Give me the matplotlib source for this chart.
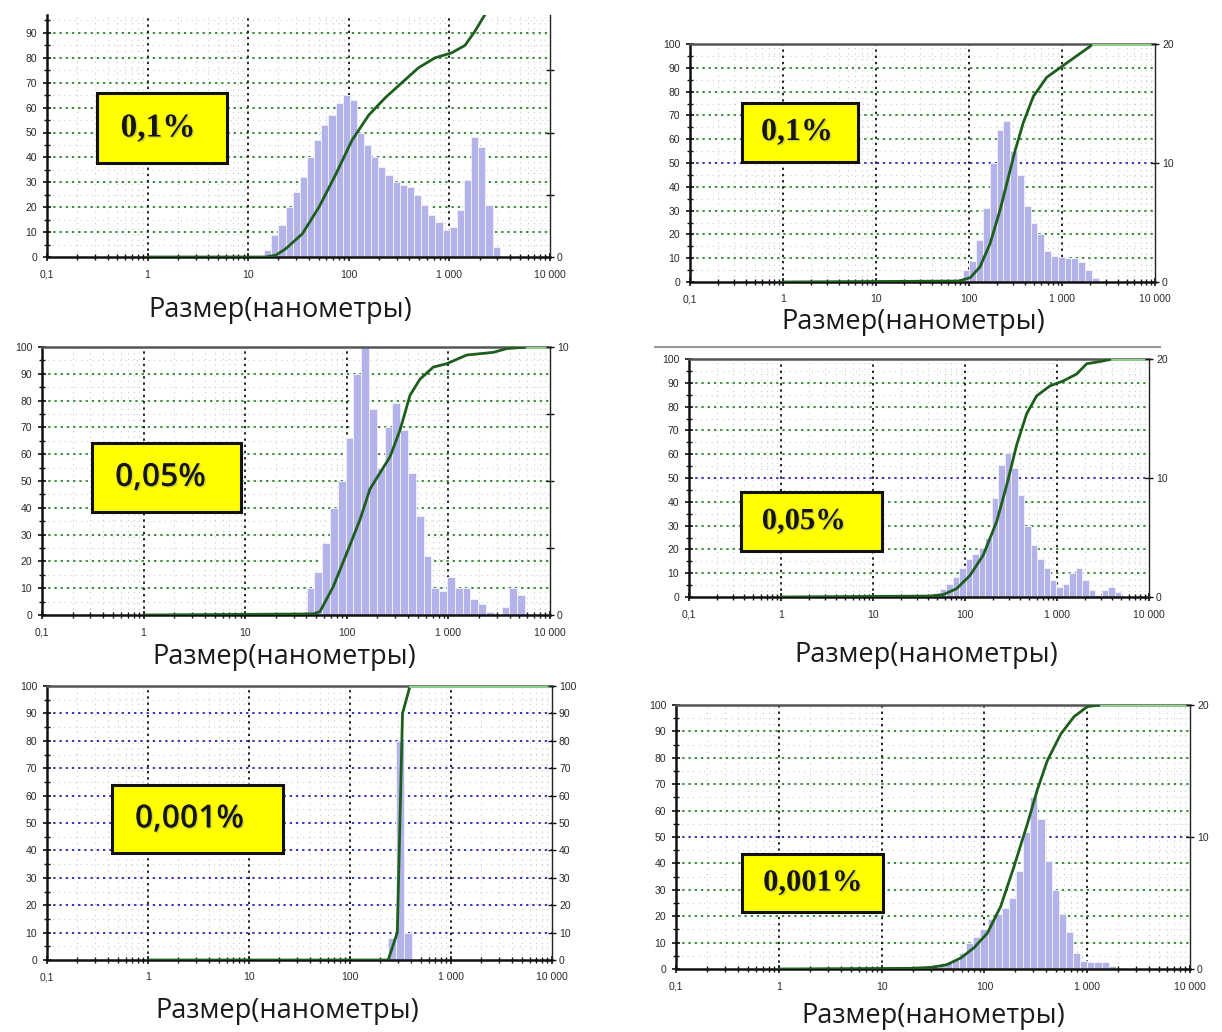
import numpy as np
import matplotlib
matplotlib.use("Agg")
import matplotlib.pyplot as plt
from matplotlib.patches import Rectangle
from matplotlib.lines import Line2D
import matplotlib.patheffects as pe
from matplotlib.ticker import FixedLocator, FixedFormatter, NullFormatter

# ---------------- data ----------------
x_tick_values = [0.1, 1, 10, 100, 1000, 10000]
x_tick_labels = ["0,1", "1", "10", "100", "1 000", "10 000"]
xlabel_text = "Размер(нанометры)"

labels = ["0,1%", "0,1%", "0,05%", "0,05%", "0,001%", "0,001%"]

# histogram channel ranges (nm): first edge, last edge
p1_range = (14.4, 3160)
p2_range = (85.5, 2470)
p3_range = (40.3, 5680)
p4_range = (45.3, 5000)
p5_range = (239, 407)
p6_range = (29.9, 1900)

# histogram heights, in units of the right-hand axis
p1_hist = [3, 9, 13, 20, 26, 32, 40, 47, 53, 57, 62, 65, 63, 50, 45, 40, 36, 33, 30, 29,
           28, 25, 21, 17, 14, 11, 12, 19, 31, 48, 44, 21, 4]
p2_hist = [1.0, 1.8, 3.5, 6.2, 10.0, 12.8, 13.5, 11.0, 9.0, 6.4, 5.0, 4.0, 2.6, 2.2, 2.1,
           2.0, 2.0, 1.7, 1.0, 0.3]
p3_hist = [1.0, 1.6, 2.7, 4.0, 5.0, 6.6, 9.0, 10.0, 7.7, 5.5, 7.0, 7.9, 6.9, 5.3, 3.7, 2.2,
           1.0, 0.9, 1.4, 1.0, 1.0, 0.6, 0.4, 0.1, 0.0, 0.3, 1.0, 0.75]
p4_hist = [0.3, 0.7, 1.1, 1.7, 2.4, 3.2, 3.6, 4.1, 5.0, 8.3, 11.1, 12.1, 10.8, 8.6, 6.0, 4.4,
           3.2, 2.4, 1.4, 0.8, 1.1, 2.0, 2.4, 1.4, 0.6, 0.2, 0.6, 0.8, 0.4]
p5_hist = [8, 80, 10]
p6_hist = [0.2, 0.3, 0.5, 0.7, 1.2, 2.0, 2.4, 3.0, 3.8, 4.2, 4.6, 5.4, 7.4, 10.4, 13.0, 11.4,
           8.2, 6.0, 4.2, 2.8, 1.2, 0.6, 0.5, 0.5, 0.5, 0.2]

# cumulative curves (size nm, cumulative %)
p1_cum_x = [1, 15, 18.8, 23.6, 34.5, 50.5, 73.8, 108, 158, 231, 337, 493, 721, 1055, 1430, 1795, 2254, 2500, 10000]
p1_cum_y = [0, 0, 0.7, 3.3, 9.3, 20, 33, 47, 57, 64, 70, 76, 80, 82, 85, 90.7, 97.3, 100, 100]
p2_cum_x = [1, 77, 103, 131, 168, 215, 265, 312, 384, 492, 685, 1033, 1563, 2174, 10000]
p2_cum_y = [0, 0.4, 1.8, 6.3, 16, 30, 44, 55, 67, 78, 86, 91, 96, 100, 100]
p3_cum_x = [1, 47, 54.5, 73.6, 99.7, 135, 169, 212, 266, 334, 419, 525, 710, 961, 1513, 2766, 3741, 5900, 10000]
p3_cum_y = [0, 0.4, 1.3, 10.6, 23, 35.6, 47, 53, 59, 69, 82, 88, 92.5, 93.75, 97, 98, 99.4, 100, 100]
p4_cum_x = [1, 41.7, 58, 81, 113, 158, 221, 284, 365, 468, 601, 839, 1171, 1636, 2101, 3000, 4000, 10000]
p4_cum_y = [0, 0.4, 1, 3.5, 9, 17.6, 31.7, 47, 64, 77, 84.5, 88.7, 90.8, 93.7, 98, 99, 100, 100]
p5_cum_x = [1, 239, 294, 331, 393, 10000]
p5_cum_y = [0, 0, 10, 90, 100, 100]
p6_cum_x = [1, 19, 30, 43, 59, 79, 107, 144, 194, 262, 328, 410, 553, 745, 1007, 1358, 10000]
p6_cum_y = [0, 0.25, 0.6, 1.6, 4.2, 8, 13.6, 23.7, 38.8, 55, 68, 79, 89, 95.6, 99.4, 100, 100]

# right axis: max value and labelled ticks
right_max = [100, 20, 10, 20, 100, 20]
right_ticks = [[0, 25, 50, 75], [0, 10, 20], [0, 2.5, 5, 7.5, 10], [0, 10, 20],
               list(range(0, 101, 10)), [0, 10, 20]]
right_labels = [["0", "", "", ""], ["0", "10", "20"], ["0", "", "", "", "10"], ["0", "10", "20"],
                [str(v) for v in range(0, 101, 10)], ["0", "10", "20"]]

# ---------------- layout (pixels) ----------------
W, H = 1222, 1032
# x of 0.1, x of 10000, y of 0, y of 100
frames = [(47, 550, 257, 8), (690, 1155, 282, 44), (42, 550, 615, 347),
          (689, 1149, 597, 359), (47, 552, 960, 686), (676, 1190, 969, 705)]
ytop_val = [97, 100, 100, 100, 100, 100]
boxes = [(97, 93, 227, 163), (742, 103, 858, 162), (92, 443, 241, 512),
         (741, 492, 882, 551), (112, 785, 283, 853), (742, 854, 883, 912)]
box_text_dx = [-4, -3, -6, -8, -8, 0]
box_serif = [True, True, False, True, False, True]
box_fs = [24, 23, 23, 22, 23, 22]
xlabels_pos = [(280, 310), (913, 322), (284, 657), (926, 655), (287, 1011), (933, 1016)]
hist_sets = [(p1_range, p1_hist), (p2_range, p2_hist), (p3_range, p3_hist),
             (p4_range, p4_hist), (p5_range, p5_hist), (p6_range, p6_hist)]
cum_sets = [(p1_cum_x, p1_cum_y), (p2_cum_x, p2_cum_y), (p3_cum_x, p3_cum_y),
            (p4_cum_x, p4_cum_y), (p5_cum_x, p5_cum_y), (p6_cum_x, p6_cum_y)]
blue50 = [False, True, False, True, True, True]
all_blue = [False, False, False, False, True, False]

GREEN = "#3a8f3a"
BLUE = "#3535b5"
BAR = "#b3b3ea"
CURVE = "#1d5e1d"
LIGHT = "#8fd88f"

fig = plt.figure(figsize=(W / 100, H / 100), dpi=100)
fig.patch.set_facecolor("white")

# thin grey frame line above the middle-right panel (part of the source screenshot)
fig.add_artist(Line2D([655 / W, 1160 / W], [1 - 347 / H, 1 - 347 / H],
                      transform=fig.transFigure, color="#9a9a9a", lw=1.5))

for i in range(6):
    x0, x1, y0, y100 = frames[i]
    ppu = (y0 - y100) / 100.0
    top_px = y0 - ytop_val[i] * ppu
    ax = fig.add_axes([x0 / W, 1 - y0 / H, (x1 - x0) / W, (y0 - top_px) / H])
    ax.set_xscale("log")
    ax.set_xlim(0.1, 10000)
    ax.set_ylim(0, ytop_val[i])
    ax.set_facecolor("white")

    # minor grid
    for d in [0.1, 1, 10, 100, 1000]:
        for m in range(2, 10):
            ax.axvline(d * m, color="#c9c9c9", ls=(0, (1, 4)), lw=0.8, zorder=0.5)
    for v in range(5, 100, 10):
        ax.axhline(v, color="#d0d0d0", ls=(0, (1, 4)), lw=0.8, zorder=0.5)
    # major grid
    for v in range(10, 100, 10):
        c = BLUE if (all_blue[i] or (blue50[i] and v == 50)) else GREEN
        ax.axhline(v, color=c, ls=(0, (1.2, 2.0)), lw=1.4, zorder=1)
    for d in [1, 10, 100, 1000]:
        ax.axvline(d, color="#222222", ls=(0, (1.2, 2.0)), lw=1.4, zorder=1)

    # histogram
    (lo, hi), hv = hist_sets[i]
    edges = np.geomspace(lo, hi, len(hv) + 1)
    hv_scaled = np.array(hv, dtype=float) * 100.0 / right_max[i]
    ax.bar(edges[:-1], hv_scaled, width=np.diff(edges), align="edge",
           color=BAR, edgecolor="#eeeefc", linewidth=0.7, zorder=2)

    # cumulative curve
    cx, cy = cum_sets[i]
    ax.plot(cx, cy, color=CURVE, lw=2.0, zorder=4, solid_capstyle="round",
            solid_joinstyle="round")
    k = next(j for j, v in enumerate(cy) if v >= 100)
    ax.plot(cx[k:], cy[k:], color=LIGHT, lw=2.0, zorder=4.5)

    # ticks
    ax.xaxis.set_major_locator(FixedLocator(x_tick_values))
    ax.xaxis.set_major_formatter(FixedFormatter(x_tick_labels))
    minors = [d * m for d in [0.1, 1, 10, 100, 1000] for m in range(2, 10)]
    ax.xaxis.set_minor_locator(FixedLocator(minors))
    ax.xaxis.set_minor_formatter(NullFormatter())
    yt = list(range(0, 101, 10)) if ytop_val[i] >= 100 else list(range(0, 91, 10))
    ax.yaxis.set_major_locator(FixedLocator(yt))
    ax.yaxis.set_major_formatter(FixedFormatter([str(v) for v in yt]))
    ax.yaxis.set_minor_locator(FixedLocator(list(range(5, 100, 10))))
    ax.tick_params(axis="both", which="major", direction="inout", length=6, width=1.2,
                   labelsize=7.5, labelcolor="#2a2a2a", color="#111111")
    ax.tick_params(axis="both", which="minor", direction="inout", length=4, width=1.0,
                   color="#111111")
    ax.tick_params(axis="x", which="major", pad=6)
    ax.tick_params(axis="y", which="major", pad=4)
    for lab in ax.get_xticklabels() + ax.get_yticklabels():
        lab.set_family("Liberation Sans")

    for s in ["left", "bottom"]:
        ax.spines[s].set_color("#111111")
        ax.spines[s].set_linewidth(1.8)
    ax.spines["right"].set_visible(False)
    if ytop_val[i] < 100:
        ax.spines["top"].set_visible(False)
    else:
        ax.spines["top"].set_color("#555555")
        ax.spines["top"].set_linewidth(1.8)

    # right axis
    ax2 = ax.twinx()
    ax2.set_ylim(0, right_max[i] * ytop_val[i] / 100.0)
    ax2.yaxis.set_major_locator(FixedLocator(right_ticks[i]))
    ax2.yaxis.set_major_formatter(FixedFormatter(right_labels[i]))
    ax2.tick_params(axis="y", which="major", direction="inout", length=6, width=1.0,
                    labelsize=7.5, labelcolor="#2a2a2a", color="#111111", pad=2)
    for lab in ax2.get_yticklabels():
        lab.set_family("Liberation Sans")
    for s in ["left", "bottom", "top"]:
        ax2.spines[s].set_visible(False)
    ax2.spines["right"].set_color("#222222")
    ax2.spines["right"].set_linewidth(1.0)

    # x label
    lx, ly = xlabels_pos[i]
    fig.text(lx / W, 1 - ly / H, xlabel_text, ha="center", va="center",
             fontsize=19.5, family="Open Sans", color="#1a1a1a")

    # concentration box
    bx0, by0, bx1, by1 = boxes[i]
    rect = Rectangle((bx0 / W, 1 - by1 / H), (bx1 - bx0) / W, (by1 - by0) / H,
                     transform=fig.transFigure, facecolor="#ffff00", edgecolor="#111111",
                     linewidth=2.2, zorder=5)
    fig.add_artist(rect)
    fam = "Liberation Serif" if box_serif[i] else "Open Sans"
    wt = "bold" if box_serif[i] else "semibold"
    t = fig.text(((bx0 + bx1) / 2 + box_text_dx[i]) / W, 1 - ((by0 + by1) / 2) / H, labels[i],
                 ha="center", va="center", fontsize=box_fs[i], family=fam, weight=wt,
                 color="#151515", zorder=6)
    t.set_path_effects([pe.SimplePatchShadow(offset=(1.0, -1.0), shadow_rgbFace="#888888", alpha=0.35),
                        pe.Normal()])

fig.savefig("out.png", dpi=100, facecolor="white")
